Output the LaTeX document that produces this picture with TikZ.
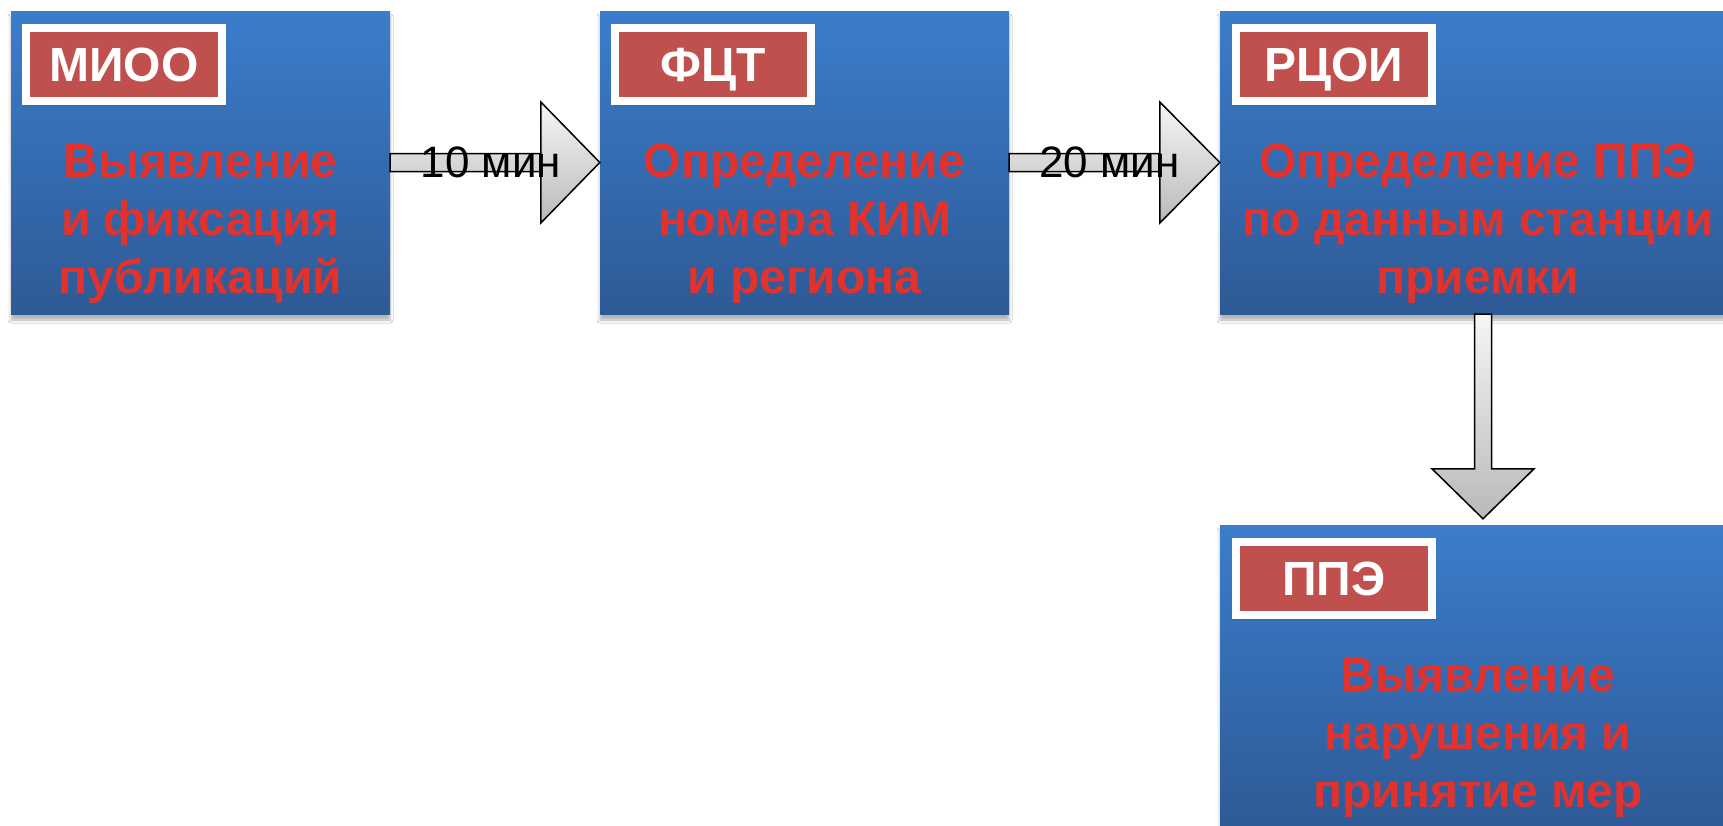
\documentclass[tikz,border=0pt]{standalone}
\usepackage{fontspec}
\setmainfont{Liberation Sans}
\usetikzlibrary{calc,shadows.blur}
\definecolor{boxtop}{RGB}{59,125,203}
\definecolor{boxbot}{RGB}{46,90,150}
\definecolor{txtred}{RGB}{225,50,45}
\definecolor{labred}{RGB}{192,80,77}
\definecolor{arrtop}{RGB}{246,246,246}
\definecolor{arrbot}{RGB}{185,185,185}
\begin{document}
\begin{tikzpicture}[x=1pt,y=-1pt,
  stagebox/.style={rectangle, minimum height=303pt, inner sep=0pt,
    top color=boxtop, bottom color=boxbot,
    blur shadow={shadow xshift=0pt, shadow yshift=-6pt, shadow opacity=30, shadow blur radius=3pt}},
  tag/.style={rectangle, fill=labred, draw=white, line width=8pt,
    minimum width=196pt, minimum height=73pt, inner sep=0pt, text=white,
    text height=35pt, text depth=0pt,
    font=\bfseries\fontsize{48}{48}\selectfont,
    blur shadow={shadow xshift=2pt, shadow yshift=-3pt, shadow opacity=25, shadow blur radius=3pt}},
  stagetext/.style={text=txtred, align=center, inner sep=0pt,
    font=\bfseries\fontsize{48}{58}\selectfont},
  blockarr/.style={draw=black, line width=1.5pt, top color=arrtop, bottom color=arrbot, line join=miter},
  arrlabel/.style={text=black, inner sep=0pt, font=\fontsize{44}{44}\selectfont}
]
\useasboundingbox (0,0) rectangle (1723,825);
\clip (0,0) rectangle (1723,825);
\fill[white] (0,0) rectangle (1723,825);

% stage boxes
\node[stagebox, minimum width=379pt] (b1) at (200.5,162.5) {};
\node[stagebox, minimum width=409pt] (b2) at (804.5,162.5) {};
\node[stagebox, minimum width=520pt] (b3) at (1480,162.5) {};
\node[stagebox, minimum width=520pt] (b4) at (1480,676.5) {};

% tags
\node[tag] (t1) at ($(b1.north west)+(113,53.5)$) {МИОО};
\node[tag] (t2) at ($(b2.north west)+(113,53.5)$) {ФЦТ};
\node[tag] (t3) at ($(b3.north west)+(114,53.5)$) {РЦОИ};
\node[tag] (t4) at ($(b4.north west)+(114,53.5)$) {ППЭ};

% texts
\node[stagetext] (x1) at ($(b1.center)+(0,61)$) {Выявление\\и фиксация\\публикаций};
\node[stagetext] (x2) at ($(b2.center)+(0,61)$) {Определение\\номера КИМ\\и региона};
\node[stagetext] (x3) at ($(b3.center)+(-2,61)$) {Определение ППЭ\\по данным станции\\приемки};
\node[stagetext] (x4) at ($(b4.center)+(-2,61)$) {Выявление\\нарушения и\\принятие мер};

% block arrows
\path[blockarr] let \p1=(b1.east), \p2=(b2.west) in
  (\x1,\y1-9pt) -- (\x2-59pt,\y1-9pt) -- (\x2-59pt,\y1-60.5pt) -- (\x2,\y1)
  -- (\x2-59pt,\y1+60.5pt) -- (\x2-59pt,\y1+9pt) -- (\x1,\y1+9pt) -- cycle;
\path[blockarr] let \p1=(b2.east), \p2=(b3.west) in
  (\x1,\y1-9pt) -- (\x2-60pt,\y1-9pt) -- (\x2-60pt,\y1-60.5pt) -- (\x2,\y1)
  -- (\x2-60pt,\y1+60.5pt) -- (\x2-60pt,\y1+9pt) -- (\x1,\y1+9pt) -- cycle;
\path[blockarr] let \p1=(b3.south), \p2=(b4.north) in
  (\x1-5.5pt,\y1) -- (\x1-5.5pt,\y2+56pt) -- (\x1-48pt,\y2+56pt) -- (\x1+3pt,\y2+6pt)
  -- (\x1+54pt,\y2+56pt) -- (\x1+11.5pt,\y2+56pt) -- (\x1+11.5pt,\y1) -- cycle;

% arrow labels
\node[arrlabel] (l1) at ($(b1.east)!0.5!(b2.west)+(-4,0)$) {10 мин};
\node[arrlabel] (l2) at ($(b2.east)!0.5!(b3.west)+(-5,0)$) {20 мин};
\end{tikzpicture}
\end{document}
